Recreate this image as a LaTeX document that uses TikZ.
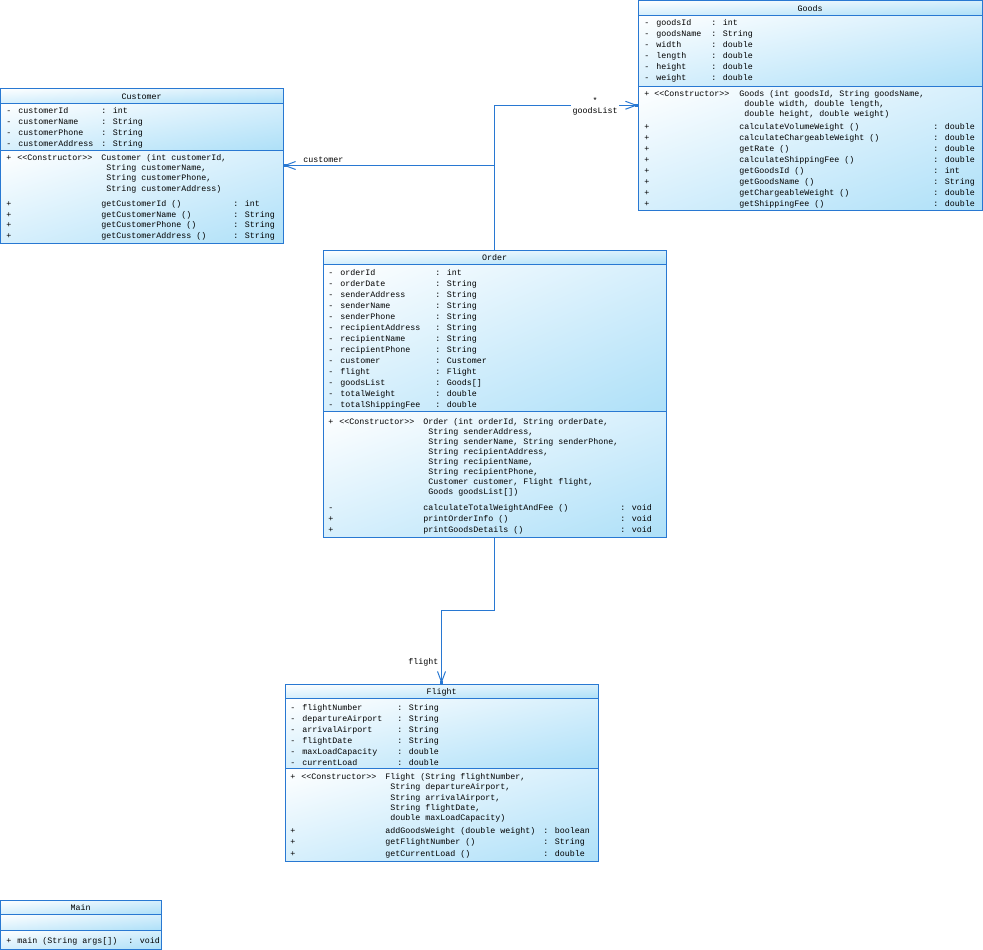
\documentclass[tikz,border=0pt]{standalone}
\usepackage{fontspec}
\newfontfamily\umlfont{Liberation Mono}
\usetikzlibrary{arrows.meta, fit, calc, shadings}

\definecolor{umlblue}{RGB}{40,120,210}
\definecolor{umlfill}{RGB}{174,224,248}
\definecolor{umlmid}{RGB}{214,239,252}

\tikzset{
  classbox/.style={draw=umlblue, line width=0.75pt, inner sep=0pt},
  section/.style={upper left=white, upper right=umlmid, lower left=umlmid, lower right=umlfill},
  member/.style={anchor=west, inner sep=0pt, text height=4.5pt, text depth=0pt,
    font=\umlfont\fontsize{6.25pt}{8pt}\selectfont},
  rolelabel/.style={member, fill=white, inner xsep=1pt, inner ysep=4pt},
  assoc/.style={draw=umlblue, line width=0.75pt, -{Straight Barb[length=8pt,width=6pt]}},
}

% class frame: name, x1, y1, x2, y2, first rule, second rule, title
\newcommand{\umlclass}[8]{%
  \shade[section] (#2,#3) rectangle (#4,#6);
  \shade[section] (#2,#6) rectangle (#4,#7);
  \shade[section] (#2,#7) rectangle (#4,#5);
  \coordinate (#1-nw) at (#2,#3);
  \coordinate (#1-se) at (#4,#5);
  \node[classbox, fit=(#1-nw)(#1-se)] (#1) {};
  \draw[umlblue, line width=0.75pt] (#2,#6) -- (#4,#6) (#2,#7) -- (#4,#7);
  \node[member, anchor=center] (#1-title) at ({(#2+#4)/2},{(#3+#6)/2+0.5}) {#8};
}

\begin{document}
\begin{tikzpicture}[x=0.75pt, y=-0.75pt]
  \useasboundingbox (0,0) rectangle (983,950);

  % Goods
  \umlclass{goods}{638}{0.5}{982}{210}{15}{86}{Goods}
  \foreach \nm/\ty [count=\i from 0] in {goodsId/int, goodsName/String, width/double,
      length/double, height/double, weight/double} {
    \node[member] (goods-vis\i) at (644,{22+11*\i}) {-};
    \node[member] (goods-att\i) at (656,{22+11*\i}) {\nm};
    \node[member] (goods-typ\i) at (711,{22+11*\i}) {: \ty};
  }
  \node[member] (goods-ctorvis) at (644,93) {+};
  \node[member] (goods-ctor) at (654,93) {<{}<Constructor>{}>};
  \node[member] (goods-sig0) at (739,93) {Goods (int goodsId, String goodsName,};
  \node[member] (goods-sig1) at (744,103) {double width, double length,};
  \node[member] (goods-sig2) at (744,113) {double height, double weight)};
  \foreach \nm/\ty [count=\i from 0] in {calculateVolumeWeight ()/double,
      calculateChargeableWeight ()/double, getRate ()/double,
      calculateShippingFee ()/double, getGoodsId ()/int, getGoodsName ()/String,
      getChargeableWeight ()/double, getShippingFee ()/double} {
    \node[member] (goods-opvis\i) at (644,{126+11*\i}) {+};
    \node[member] (goods-op\i) at (739,{126+11*\i}) {\nm};
    \node[member] (goods-ret\i) at (933,{126+11*\i}) {: \ty};
  }

  % Customer
  \umlclass{customer}{0.5}{88}{283}{243}{103}{150}{Customer}
  \foreach \nm/\ty [count=\i from 0] in {customerId/int, customerName/String,
      customerPhone/String, customerAddress/String} {
    \node[member] (customer-vis\i) at (6,{110+11*\i}) {-};
    \node[member] (customer-att\i) at (18,{110+11*\i}) {\nm};
    \node[member] (customer-typ\i) at (101,{110+11*\i}) {: \ty};
  }
  \node[member] (customer-ctorvis) at (6,157) {+};
  \node[member] (customer-ctor) at (17,157) {<{}<Constructor>{}>};
  \node[member] (customer-sig0) at (101,157) {Customer (int customerId,};
  \foreach \ln [count=\i from 1] in {{String customerName,}, {String customerPhone,},
      {String customerAddress)}} {
    \node[member] (customer-sig\i) at (106,{157+10.4*\i}) {\ln};
  }
  \foreach \nm/\ty [count=\i from 0] in {getCustomerId ()/int, getCustomerName ()/String,
      getCustomerPhone ()/String, getCustomerAddress ()/String} {
    \node[member] (customer-opvis\i) at (6,{203.3+10.7*\i}) {+};
    \node[member] (customer-op\i) at (101,{203.3+10.7*\i}) {\nm};
    \node[member] (customer-ret\i) at (233,{203.3+10.7*\i}) {: \ty};
  }

  % Order
  \umlclass{order}{323}{250}{666}{537}{264}{411}{Order}
  \foreach \nm/\ty [count=\i from 0] in {orderId/int, orderDate/String,
      senderAddress/String, senderName/String, senderPhone/String,
      recipientAddress/String, recipientName/String, recipientPhone/String,
      customer/Customer, flight/Flight, goodsList/Goods[], totalWeight/double,
      totalShippingFee/double} {
    \node[member] (order-vis\i) at (328,{272+11.03*\i}) {-};
    \node[member] (order-att\i) at (340,{272+11.03*\i}) {\nm};
    \node[member] (order-typ\i) at (435,{272+11.03*\i}) {: \ty};
  }
  \node[member] (order-ctorvis) at (328,421) {+};
  \node[member] (order-ctor) at (339,421) {<{}<Constructor>{}>};
  \node[member] (order-sig0) at (423,421) {Order (int orderId, String orderDate,};
  \foreach \ln [count=\i from 1] in {{String senderAddress,},
      {String senderName, String senderPhone,}, {String recipientAddress,},
      {String recipientName,}, {String recipientPhone,},
      {Customer customer, Flight flight,}, {Goods goodsList[])}} {
    \node[member] (order-sig\i) at (428,{421+10*\i}) {\ln};
  }
  \foreach \v/\nm/\ty [count=\i from 0] in {-/calculateTotalWeightAndFee ()/void,
      +/printOrderInfo ()/void, +/printGoodsDetails ()/void} {
    \node[member] (order-opvis\i) at (328,{507.3+11.2*\i}) {\v};
    \node[member] (order-op\i) at (423,{507.3+11.2*\i}) {\nm};
    \node[member] (order-ret\i) at (620,{507.3+11.2*\i}) {: \ty};
  }

  % Flight
  \umlclass{flight}{285}{684}{598}{861}{698}{768}{Flight}
  \foreach \nm/\ty [count=\i from 0] in {flightNumber/String, departureAirport/String,
      arrivalAirport/String, flightDate/String, maxLoadCapacity/double,
      currentLoad/double} {
    \node[member] (flight-vis\i) at (290,{707+11*\i}) {-};
    \node[member] (flight-att\i) at (302,{707+11*\i}) {\nm};
    \node[member] (flight-typ\i) at (397,{707+11*\i}) {: \ty};
  }
  \node[member] (flight-ctorvis) at (290,776.5) {+};
  \node[member] (flight-ctor) at (301,776.5) {<{}<Constructor>{}>};
  \node[member] (flight-sig0) at (385,776.5) {Flight (String flightNumber,};
  \foreach \ln [count=\i from 1] in {{String departureAirport,}, {String arrivalAirport,},
      {String flightDate,}, {double maxLoadCapacity)}} {
    \node[member] (flight-sig\i) at (390,{776.5+10.3*\i}) {\ln};
  }
  \foreach \nm/\ty [count=\i from 0] in {addGoodsWeight (double weight)/boolean,
      getFlightNumber ()/String, getCurrentLoad ()/double} {
    \node[member] (flight-opvis\i) at (290,{830+11.5*\i}) {+};
    \node[member] (flight-op\i) at (385,{830+11.5*\i}) {\nm};
    \node[member] (flight-ret\i) at (543,{830+11.5*\i}) {: \ty};
  }

  % Main
  \umlclass{main}{0.5}{900}{161}{949}{914}{930}{Main}
  \node[member] (main-opvis) at (6,940) {+};
  \node[member] (main-op) at (17,940) {main (String args[])};
  \node[member] (main-ret) at (128,940) {: void};

  % associations
  \draw[assoc] (order.north) |- (goods.west);
  \draw[assoc] (order.north) |- (customer.east);
  \coordinate (order-bend) at ($(order.south)!0.5!(flight.north)$);
  \draw[assoc] (order.south) |- (order-bend) -| (flight.north);
  \fill[umlblue] (goods.west) ++(-3,-1.5) rectangle ++(3,3);
  \fill[umlblue] (customer.east) ++(0,-1.5) rectangle ++(3,3);
  \fill[umlblue] (flight.north) ++(-1.5,-3) rectangle ++(3,3);

  \node[member] (customer-role) at (303,159) {customer};
  \node[rolelabel] (goods-role) at (571,110) {goodsList};
  \node[member, anchor=center] (goods-mult) at (595,100) {*};
  \node[member] (flight-role) at (408,661) {flight};
\end{tikzpicture}
\end{document}
